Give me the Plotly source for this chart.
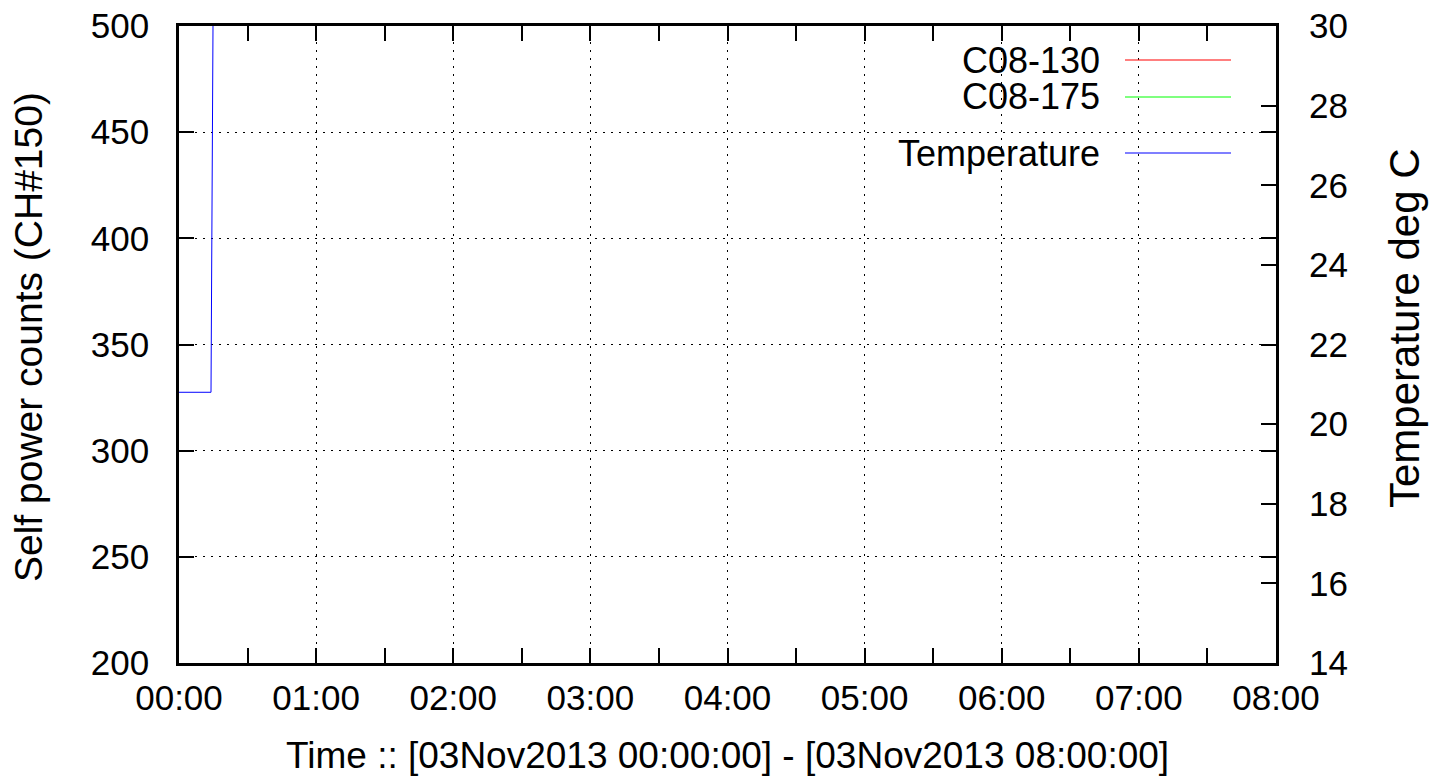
import plotly.graph_objects as go

# ---- data ----
temp_times = ["2013-11-03 00:00:00", "2013-11-03 00:14:00", "2013-11-03 00:15:00"]
temp_values = [20.8, 20.8, 31.3]
c130_times = []
c130_values = []
c175_times = []
c175_values = []
x_range = ["2013-11-03 00:00:00", "2013-11-03 08:00:00"]
legend_names = ["C08-130", "C08-175", "Temperature"]
legend_colors = ["#ff0000", "#00ff00", "#0000ff"]

FONT = "Liberation Sans, Arial, sans-serif"
W, H = 1447, 781
# plot area in page pixels
L, R, T, B = 179, 1276, 26, 663

fig = go.Figure()
fig.add_trace(go.Scatter(x=c130_times, y=c130_values, mode="lines", name="C08-130",
                         line=dict(color=legend_colors[0], width=1), showlegend=False))
fig.add_trace(go.Scatter(x=c175_times, y=c175_values, mode="lines", name="C08-175",
                         line=dict(color=legend_colors[1], width=1), showlegend=False))
fig.add_trace(go.Scatter(x=temp_times, y=temp_values, mode="lines", name="Temperature",
                         line=dict(color=legend_colors[2], width=1), yaxis="y2",
                         showlegend=False))

def px_x(p):
    return (p - L) / (R - L)

def px_y(p):
    return (B - p) / (B - T)

# manual gnuplot-style legend
leg_y = [60, 97, 153]
for name, col, yy in zip(legend_names, legend_colors, leg_y):
    fig.add_annotation(x=px_x(1102), y=px_y(yy), xref="paper", yref="paper",
                       text=name, showarrow=False, xanchor="right", yanchor="middle",
                       font=dict(family=FONT, size=36, color="black"))
    fig.add_shape(type="line", xref="paper", yref="paper",
                  x0=px_x(1125), x1=px_x(1231), y0=px_y(yy), y1=px_y(yy),
                  line=dict(color=col, width=1.2))

# axis titles
fig.add_annotation(x=px_x(727), y=px_y(755), xref="paper", yref="paper",
                   text="Time :: [03Nov2013 00:00:00] - [03Nov2013 08:00:00]",
                   showarrow=False, xanchor="center", yanchor="middle",
                   font=dict(family=FONT, size=37, color="black"))
fig.add_annotation(x=px_x(28), y=px_y(337), xref="paper", yref="paper",
                   text="Self power counts (CH#150)", textangle=-90,
                   showarrow=False, xanchor="center", yanchor="middle",
                   font=dict(family=FONT, size=39, color="black"))
fig.add_annotation(x=px_x(1404), y=px_y(328), xref="paper", yref="paper",
                   text="Temperature deg C", textangle=-90,
                   showarrow=False, xanchor="center", yanchor="middle",
                   font=dict(family=FONT, size=42, color="black"))

tickfont = dict(family=FONT, size=35, color="black")

fig.update_layout(
    width=W, height=H,
    margin=dict(l=L, r=W - R, t=T, b=H - B, pad=0, autoexpand=False),
    paper_bgcolor="white", plot_bgcolor="white",
    showlegend=False,
    xaxis=dict(
        type="date", range=x_range, tickformat="%H:%M", dtick=3600000,
        tick0="2013-11-03 00:00:00", automargin=False,
        ticks="inside", ticklen=15, tickwidth=2, tickcolor="black",
        showline=True, linecolor="black", linewidth=2.5, mirror="allticks",
        showgrid=True, gridcolor="black", gridwidth=1, griddash="2px,6px",
        zeroline=False, tickfont=tickfont, ticklabelstandoff=2,
        minor=dict(dtick=1800000, ticks="inside", ticklen=7, tickwidth=2,
                   tickcolor="black", showgrid=False),
    ),
    yaxis=dict(
        range=[200, 500], dtick=50, tick0=200, automargin=False,
        ticks="inside", ticklen=15, tickwidth=2, tickcolor="black",
        showline=True, linecolor="black", linewidth=2.5, mirror="allticks",
        showgrid=True, gridcolor="black", gridwidth=1, griddash="2px,6px",
        zeroline=False, tickfont=tickfont, ticklabelstandoff=20,
        ticklabeloverflow="allow",
    ),
    yaxis2=dict(
        range=[14, 30], dtick=2, tick0=14, overlaying="y", side="right",
        automargin=False,
        ticks="inside", ticklen=15, tickwidth=2, tickcolor="black",
        showline=False, showgrid=False, zeroline=False,
        tickfont=tickfont, ticklabelstandoff=32, ticklabeloverflow="allow",
    ),
)

fig.write_html(
    "out.html",
    config={"displayModeBar": False},
    post_script="document.body.style.margin='0';document.body.style.overflow='hidden';",
)
